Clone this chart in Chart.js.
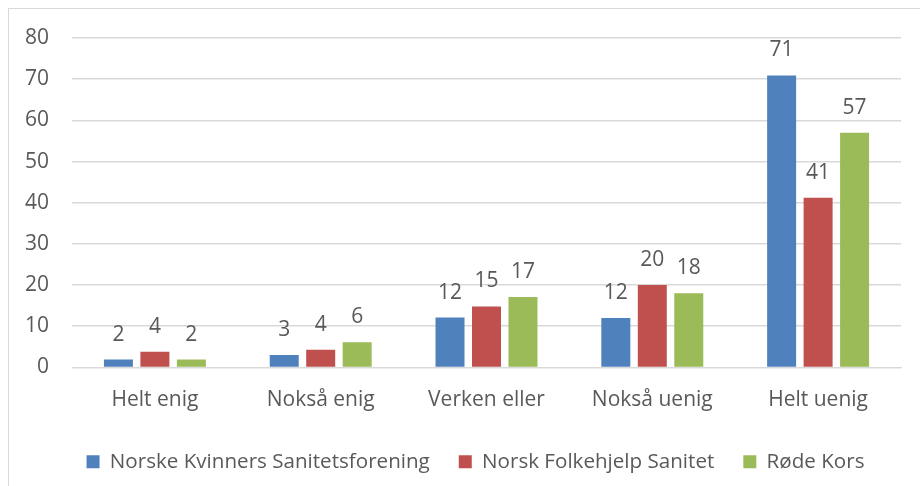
<!DOCTYPE html>
<html>
<head>
<meta charset="utf-8">
<script src="https://cdn.jsdelivr.net/npm/chart.js@4.4.1/dist/chart.umd.min.js"></script>
<style>
  html, body { margin: 0; padding: 0; background: #fff; }
  #ramme { position: absolute; left: 8px; top: 8px; width: 930px; height: 500px;
           border-left: 1px solid #d9d9d9; border-top: 1px solid #d9d9d9; }
  #boks { position: absolute; left: 8px; top: 0; width: 912px; height: 486px; }
</style>
</head>
<body>
<div id="ramme"></div>
<div id="boks"><canvas id="diagram"></canvas></div>
<script>
// Kategorier og verdier lest av figuren
var kategorier = ['Helt enig', 'Nokså enig', 'Verken eller', 'Nokså uenig', 'Helt uenig'];
var kvinnersSanitet = [1.9, 3.0, 12.1, 12.0, 70.9];
var folkehjelpSanitet = [3.8, 4.3, 14.8, 20.0, 41.2];
var rodeKors = [1.9, 6.1, 17.1, 18.0, 57.0];
var yTicks = [0, 10, 20, 30, 40, 50, 60, 70, 80];

var tekstfarge = '#595959';
var skrift = 'Open Sans';

// Tall over stolpene
var verdietiketter = {
    id: 'verdietiketter',
    afterDatasetsDraw: function(chart) {
        var ctx = chart.ctx;
        ctx.save();
        ctx.font = '21px "' + skrift + '"';
        ctx.fillStyle = tekstfarge;
        ctx.textAlign = 'center';
        ctx.textBaseline = 'middle';
        chart.data.datasets.forEach(function(ds, i) {
            chart.getDatasetMeta(i).data.forEach(function(bar, j) {
                ctx.fillText(Math.round(ds.data[j]), bar.x, bar.y - 25);
            });
        });
        ctx.restore();
    }
};

// Flytt forklaringen litt mot høyre, som i originalen
var flyttForklaring = {
    id: 'flyttForklaring',
    afterLayout: function(chart) {
        chart.legend.left += 21;
        chart.legend.right += 21;
    }
};

var ctx = document.getElementById('diagram').getContext('2d');
var diagram = new Chart(ctx, {
    type: 'bar',
    data: {
        labels: kategorier,
        datasets: [
            { label: 'Norske Kvinners Sanitetsforening', data: kvinnersSanitet, backgroundColor: '#4f81bd' },
            { label: 'Norsk Folkehjelp Sanitet', data: folkehjelpSanitet, backgroundColor: '#c0504d' },
            { label: 'Røde Kors', data: rodeKors, backgroundColor: '#9bbb59' }
        ]
    },
    options: {
        responsive: true,
        maintainAspectRatio: false,
        animation: false,
        datasets: { bar: { categoryPercentage: 0.66, barPercentage: 0.795 } },
        layout: { padding: { top: 38, left: 0, right: 19, bottom: 4 } },
        plugins: {
            tooltip: { enabled: false },
            legend: {
                position: 'bottom',
                labels: {
                    font: { family: skrift, size: 20.6 },
                    color: tekstfarge,
                    boxWidth: 13,
                    boxHeight: 13,
                    padding: 29
                }
            }
        },
        scales: {
            x: {
                grid: { display: false },
                border: { color: '#d9d9d9' },
                ticks: { font: { family: skrift, size: 21 }, color: tekstfarge, padding: 12 },
                afterFit: function(s) { s.height = 55; }
            },
            y: {
                min: 0,
                max: 80,
                afterBuildTicks: function(s) { s.ticks = yTicks.map(function(v) { return { value: v }; }); },
                grid: { color: '#d9d9d9', lineWidth: 1.5, drawTicks: false },
                border: { display: false },
                ticks: { font: { family: skrift, size: 21 }, color: tekstfarge, padding: 23 },
                afterFit: function(s) { s.width = 64; }
            }
        }
    },
    plugins: [verdietiketter, flyttForklaring]
});
</script>
</body>
</html>
